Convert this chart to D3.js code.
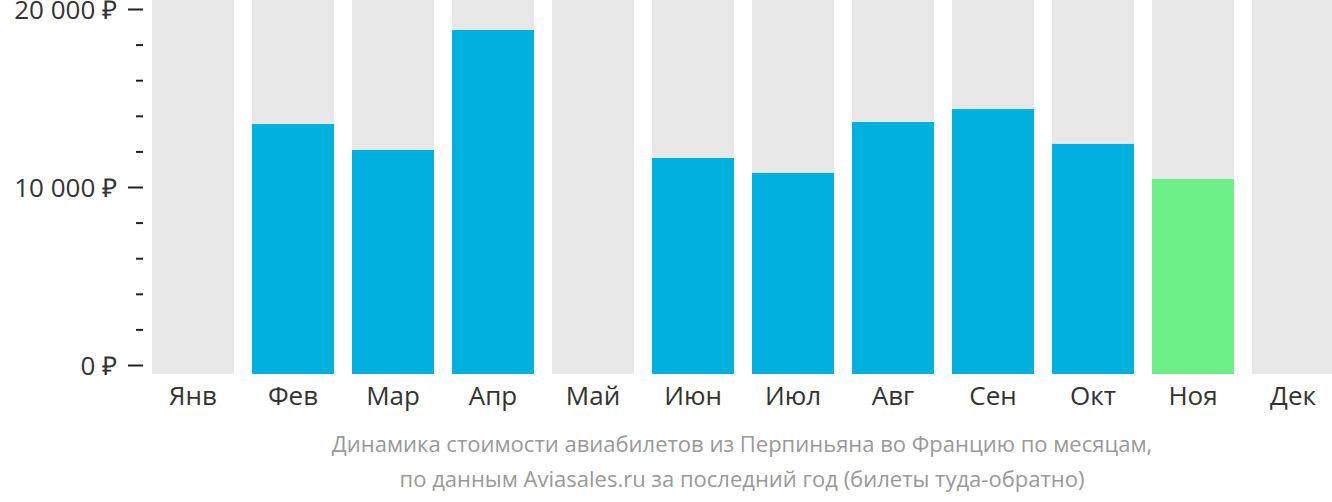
<!DOCTYPE html>
<html><head><meta charset="utf-8">
<script src="https://cdn.jsdelivr.net/npm/d3@7/dist/d3.min.js"></script>
<style>
html,body{margin:0;padding:0;background:#fff;overflow:hidden}
svg{display:block;font-family:"Open Sans",sans-serif}
</style></head>
<body>
<svg id="chart" width="1332" height="502"></svg>
<script>
const months = ["Янв","Фев","Мар","Апр","Май","Июн","Июл","Авг","Сен","Окт","Ноя","Дек"];
const prices = [null,13540,12080,18820,null,11630,10790,13650,14380,12420,10450,null];
const barColors = ["#00b1dd","#00b1dd","#00b1dd","#00b1dd","#00b1dd","#00b1dd","#00b1dd","#00b1dd","#00b1dd","#00b1dd","#6cef86","#00b1dd"];
const tickValues = [0,2000,4000,6000,8000,10000,12000,14000,16000,18000,20000];
const tickLabels = {0:"0 ₽",10000:"10 000 ₽",20000:"20 000 ₽"};
const captionLines = ["Динамика стоимости авиабилетов из Перпиньяна во Францию по месяцам,",
                      "по данным Aviasales.ru за последний год (билеты туда-обратно)"];

const svg = d3.select("#chart");
const x = d3.scaleBand().domain(months).range([143,1343]).paddingInner(0.18).paddingOuter(0.09);
const y = d3.scaleLinear().domain([0,20000]).range([365,9]);
const barBottom = 374;

// background bars
svg.append("g").selectAll("rect").data(months).join("rect")
  .attr("x", d=>x(d)).attr("y",0).attr("width",x.bandwidth()).attr("height",barBottom)
  .attr("fill","#e8e8e8");

// value bars
svg.append("g").selectAll("rect").data(months.map((m,i)=>({m,v:prices[i],c:barColors[i]})).filter(d=>d.v!=null))
  .join("rect")
  .attr("x", d=>x(d.m)).attr("y", d=>y(d.v)).attr("width",x.bandwidth()).attr("height", d=>barBottom-y(d.v))
  .attr("fill", d=>d.c);

// y axis
const yAxis = d3.axisLeft(y).tickValues(tickValues).tickSize(0).tickPadding(0).tickFormat(d=>tickLabels[d]||"");
const gy = svg.append("g").attr("transform","translate(143,0)").call(yAxis);
gy.select(".domain").remove();
gy.selectAll(".tick line")
  .attr("x1", d=>tickLabels[d]?-15:-7).attr("x2",0)
  .attr("stroke","#222").attr("stroke-width",2);
gy.selectAll(".tick text").attr("x",-26).attr("dy","0.36em")
  .attr("font-size",26).attr("fill","#333").attr("font-family","'Open Sans',sans-serif");

// x axis
const xAxis = d3.axisBottom(x).tickSize(0).tickPadding(0);
const gx = svg.append("g").attr("transform",`translate(0,${barBottom})`).call(xAxis);
gx.select(".domain").remove();
gx.selectAll(".tick text").attr("y",31).attr("dy",0)
  .attr("font-size",26).attr("fill","#333").attr("font-family","'Open Sans',sans-serif");

// caption
svg.append("g").selectAll("text").data(captionLines).join("text")
  .attr("x",742).attr("y",(d,i)=>452+i*35).attr("text-anchor","middle")
  .attr("font-size",22).attr("fill","#999").text(d=>d);
</script>
</body></html>
